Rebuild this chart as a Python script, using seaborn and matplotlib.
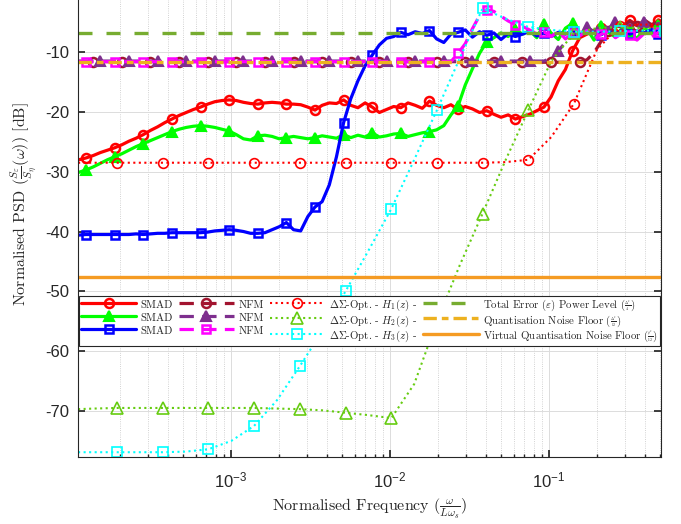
import matplotlib
matplotlib.use("Agg")
import matplotlib.pyplot as plt
from matplotlib.font_manager import FontProperties
import seaborn as sns

# shared frequency grid for SMAD / NFM curves (normalised frequency)
freq = [1.104e-4, 1.225e-4, 1.358e-4, 1.507e-4, 1.671e-4, 1.854e-4, 2.056e-4, 2.280e-4, 2.529e-4, 2.805e-4,
        3.112e-4, 3.451e-4, 3.828e-4, 4.246e-4, 4.710e-4, 5.224e-4, 5.794e-4, 6.427e-4, 7.129e-4, 7.907e-4,
        8.770e-4, 9.727e-4, 1.079e-3, 1.197e-3, 1.327e-3, 1.472e-3, 1.633e-3, 1.811e-3, 2.009e-3, 2.228e-3,
        2.472e-3, 2.742e-3, 3.041e-3, 3.373e-3, 3.741e-3, 4.150e-3, 4.603e-3, 5.105e-3, 5.662e-3, 6.281e-3,
        6.966e-3, 7.727e-3, 8.570e-3, 9.506e-3, 1.054e-2, 1.169e-2, 1.297e-2, 1.439e-2, 1.596e-2, 1.770e-2,
        1.963e-2, 2.178e-2, 2.415e-2, 2.679e-2, 2.972e-2, 3.296e-2, 3.656e-2, 4.055e-2, 4.498e-2, 4.989e-2,
        5.534e-2, 6.138e-2, 6.808e-2, 7.551e-2, 8.375e-2, 9.290e-2, 0.1030, 0.1143, 0.1268, 0.1406,
        0.1560, 0.1730, 0.1919, 0.2128, 0.2360, 0.2618, 0.2904, 0.3221, 0.3573, 0.3963,
        0.4395, 0.4875, 0.5408]

smad_h1 = [-28.0,
           -27.7, -27.3, -26.8, -26.4, -26.0, -25.5, -24.9, -24.4, -23.8, -23.1,
           -22.5, -21.8, -21.2, -20.6, -20.1, -19.6, -19.2, -18.7, -18.3, -18.1,
           -18.0, -18.1, -18.4, -18.6, -18.7, -18.5, -18.4, -18.5, -18.7, -18.7,
           -18.8, -19.2, -19.7, -18.9, -18.5, -18.6, -18.0, -18.9, -19.3, -18.5,
           -19.2, -20.1, -19.6, -19.1, -19.3, -18.5, -18.9, -19.4, -18.2, -18.9,
           -19.3, -18.8, -19.6, -19.1, -19.5, -20.1, -19.8, -20.4, -20.9, -20.5,
           -21.2, -20.8, -20.4, -19.8, -19.2, -17.5, -14.8, -12.9, -9.8, -7.6,
           -7.0, -6.4, -5.9, -6.3, -5.0, -5.6, -4.7, -5.5, -4.9, -5.8,
           -4.6, -5.3]
smad_h2 = [-30.1,
           -29.7, -29.2, -28.6, -28.0, -27.5, -27.0, -26.4, -25.8, -25.3, -24.8,
           -24.3, -23.8, -23.3, -22.9, -22.6, -22.4, -22.3, -22.4, -22.6, -22.9,
           -23.2, -23.8, -24.5, -24.7, -24.0, -23.9, -24.1, -24.5, -24.3, -24.1,
           -24.3, -24.5, -24.3, -24.0, -24.2, -24.4, -23.8, -24.3, -23.9, -24.2,
           -23.5, -24.2, -24.0, -23.7, -23.6, -24.1, -23.8, -23.5, -23.3, -23.0,
           -22.3, -20.5, -19.0, -15.5, -12.8, -10.2, -8.3, -7.6, -6.8, -7.4,
           -6.2, -7.0, -6.4, -7.6, -5.3, -6.8, -7.9, -6.0, -5.2, -7.2,
           -6.1, -8.0, -5.6, -6.7, -7.5, -5.8, -6.5, -7.8, -5.9, -6.9,
           -5.4, -7.2]
smad_h3 = [-40.6,
           -40.5, -40.5, -40.5, -40.5, -40.5, -40.5, -40.5, -40.4, -40.5, -40.4,
           -40.3, -40.3, -40.2, -40.2, -40.2, -40.2, -40.2, -40.1, -39.9, -39.8,
           -39.7, -39.8, -40.0, -40.3, -40.3, -40.2, -39.7, -39.2, -38.5, -39.7,
           -39.9, -37.5, -35.9, -35.0, -32.2, -27.5, -21.8, -17.8, -14.8, -12.3,
           -10.5, -8.8, -7.7, -7.4, -6.7, -7.1, -6.6, -6.9, -6.4, -7.8,
           -8.4, -7.0, -6.7, -6.3, -7.5, -6.6, -7.2, -6.8, -7.9, -6.9,
           -7.4, -7.0, -6.5, -7.3, -6.8, -7.4, -6.7, -7.0, -6.4, -7.2,
           -6.6, -6.9, -7.1, -6.4, -6.9, -6.3, -7.0, -6.5, -6.8, -6.2,
           -6.9, -6.5]

nfm_h1 = [-11.6,
          -11.6, -11.6, -11.6, -11.6, -11.6, -11.6, -11.6, -11.6, -11.6, -11.6,
          -11.6, -11.6, -11.6, -11.6, -11.6, -11.6, -11.6, -11.6, -11.6, -11.6,
          -11.6, -11.6, -11.6, -11.6, -11.6, -11.6, -11.6, -11.6, -11.6, -11.6,
          -11.6, -11.6, -11.6, -11.6, -11.6, -11.6, -11.6, -11.6, -11.6, -11.6,
          -11.6, -11.6, -11.6, -11.6, -11.6, -11.6, -11.6, -11.6, -11.6, -11.6,
          -11.6, -11.6, -11.6, -11.6, -11.6, -11.6, -11.6, -11.6, -11.6, -11.6,
          -11.6, -11.6, -11.6, -11.7, -11.7, -11.7, -11.7, -11.7, -11.7, -11.6,
          -11.3, -10.1, -8.2, -6.4, -5.3, -5.9, -4.8, -5.6, -4.6, -5.4,
          -4.9, -5.5]
nfm_h2 = [-11.5,
          -11.5, -11.5, -11.5, -11.5, -11.5, -11.5, -11.5, -11.5, -11.5, -11.5,
          -11.5, -11.5, -11.5, -11.5, -11.5, -11.5, -11.5, -11.5, -11.5, -11.5,
          -11.5, -11.5, -11.5, -11.5, -11.5, -11.5, -11.5, -11.5, -11.5, -11.5,
          -11.5, -11.5, -11.5, -11.5, -11.5, -11.5, -11.5, -11.5, -11.5, -11.5,
          -11.5, -11.5, -11.5, -11.5, -11.5, -11.5, -11.5, -11.5, -11.5, -11.5,
          -11.5, -11.5, -11.5, -11.5, -11.5, -11.5, -11.5, -11.5, -11.5, -11.5,
          -11.5, -11.5, -11.5, -11.5, -11.5, -11.0, -9.8, -8.4, -7.2, -6.3,
          -5.8, -6.6, -5.3, -6.1, -5.0, -6.4, -5.4, -6.2, -4.9, -5.9,
          -5.2, -6.0]
nfm_h3 = [-11.6,
          -11.6, -11.6, -11.6, -11.6, -11.6, -11.6, -11.6, -11.6, -11.6, -11.6,
          -11.6, -11.6, -11.6, -11.6, -11.6, -11.6, -11.6, -11.6, -11.6, -11.6,
          -11.6, -11.6, -11.6, -11.6, -11.6, -11.6, -11.6, -11.6, -11.6, -11.6,
          -11.6, -11.6, -11.6, -11.6, -11.6, -11.6, -11.6, -11.6, -11.6, -11.6,
          -11.6, -11.6, -11.6, -11.6, -11.6, -11.6, -11.6, -11.6, -11.6, -11.6,
          -11.6, -11.6, -10.2, -8.6, -6.1, -3.9, -2.9, -3.2, -4.0, -4.8,
          -5.4, -5.7, -6.3, -7.0, -6.6, -7.4, -6.5, -7.8, -6.8, -7.3,
          -6.4, -7.9, -7.0, -6.5, -7.6, -6.8, -7.2, -8.0, -6.9, -7.5,
          -6.7, -7.8]

# grid for the Delta-Sigma optimised curves
freq_opt = [1.091e-4, 1.377e-4, 1.919e-4, 2.673e-4, 3.715e-4, 5.176e-4, 7.211e-4, 1.005e-3, 1.396e-3,
            1.945e-3, 2.710e-3, 3.776e-3, 5.248e-3, 7.311e-3, 1.019e-2, 1.419e-2, 1.972e-2, 2.748e-2,
            3.819e-2, 5.321e-2, 7.413e-2, 0.1033, 0.1436, 0.2000, 0.2786, 0.3882, 0.5395]
opt_h1 = [-28.5, -28.5, -28.5, -28.5, -28.5, -28.5, -28.5, -28.5, -28.5,
          -28.5, -28.5, -28.5, -28.5, -28.5, -28.5, -28.5, -28.5, -28.5,
          -28.5, -28.4, -28.0, -24.2, -18.6, -9.6, -5.6, -5.4, -5.4]
opt_h2 = [-69.7, -69.6, -69.5, -69.5, -69.5, -69.5, -69.5, -69.5, -69.5,
          -69.6, -69.7, -69.9, -70.3, -70.7, -71.2, -65.5, -55.0, -45.6,
          -37.0, -28.1, -19.7, -11.5, -6.8, -6.0, -5.8, -6.0, -6.0]
opt_h3 = [-76.9, -76.9, -76.9, -76.9, -76.9, -76.8, -76.4, -75.0, -72.5,
          -68.2, -62.5, -56.5, -50.0, -43.2, -36.2, -28.0, -19.7, -11.0,
          -2.7, -4.4, -5.8, -6.3, -6.6, -6.6, -6.5, -6.4, -6.4]

total_error_db = -6.8
quant_floor_db = -11.6
virtual_floor_db = -47.6

labels = ['SMAD', 'SMAD', 'SMAD', 'NFM', 'NFM', 'NFM',
          r'$\Delta\Sigma$-Opt. - $H_1(z)$ -',
          r'$\Delta\Sigma$-Opt. - $H_2(z)$ -',
          r'$\Delta\Sigma$-Opt. - $H_3(z)$ -',
          r'Total Error $(\varepsilon)$ Power Level $(\genfrac{}{}{0.5}{3}{\Delta^2}{4})$',
          r'Quantisation Noise Floor $(\genfrac{}{}{0.5}{3}{\Delta^2}{12})$',
          r'Virtual Quantisation Noise Floor $(\genfrac{}{}{0.5}{3}{\rho^2}{12})$']

sns.set_theme(style="whitegrid")
plt.rcParams['font.family'] = ['Liberation Sans', 'DejaVu Sans']
plt.rcParams['mathtext.fontset'] = 'cm'
plt.rcParams['axes.unicode_minus'] = False

fig = plt.figure(figsize=(6.81, 5.24), dpi=100)
# the axes run a little past the top edge of the picture (cropped like the original)
ax = fig.add_axes([78 / 681, 67 / 524, 583 / 681, 506 / 524])
ax.set_xscale('log')


def draw(x, y, color, ls, lw, marker, ms, mew, mfc, every):
    sns.lineplot(x=x, y=y, ax=ax, color=color, linestyle=ls, linewidth=lw,
                 marker=marker, markersize=ms, markeredgewidth=mew,
                 markeredgecolor=color, markerfacecolor=mfc, markevery=every,
                 sort=False, estimator=None, errorbar=None, legend=False)
    return ax.lines[-1]


handles = []
# SMAD
handles.append(draw(freq, smad_h1, '#FF0000', '-', 2.3, 'o', 6.5, 1.8, 'none', (1, 4)))
handles.append(draw(freq, smad_h2, '#00FF00', '-', 2.3, '^', 7.5, 1.5, '#00FF00', (1, 4)))
handles.append(draw(freq, smad_h3, '#0000FF', '-', 2.3, 's', 6.0, 1.8, 'none', (1, 4)))
# NFM
handles.append(draw(freq, nfm_h1, '#A2142F', '--', 2.3, 'o', 6.5, 1.8, 'none', (2, 4)))
handles.append(draw(freq, nfm_h2, '#7E2F8E', '--', 2.3, '^', 7.5, 1.5, '#7E2F8E', (3, 4)))
handles.append(draw(freq, nfm_h3, '#FF00FF', '--', 2.3, 's', 6.0, 1.8, 'none', (1, 4)))
for h in handles[3:6]:
    h.set_dashes((4.5, 2.6))
# Delta-Sigma optimised
handles.append(draw(freq_opt, opt_h1, '#FF0000', ':', 1.5, 'o', 7.0, 1.2, 'none', (2, 2)))
handles.append(draw(freq_opt, opt_h2, '#66CC11', ':', 1.5, '^', 8.0, 1.2, 'none', (2, 2)))
handles.append(draw(freq_opt, opt_h3, '#00FFFF', ':', 1.5, 's', 7.0, 1.2, 'none', (2, 2)))

# reference levels
l_tot = ax.axhline(total_error_db, color='#77AC30', lw=2.4)
l_tot.set_dashes((4.2, 4.2))
l_q = ax.axhline(quant_floor_db, color='#EDB120', lw=2.4)
l_q.set_dashes((4.0, 1.5, 2.0, 1.5))
l_v = ax.axhline(virtual_floor_db, color='#F59B23', lw=2.4)
handles += [l_tot, l_q, l_v]

ax.set_xlim(1.09e-4, 0.506)
ax.set_ylim(-77.7, 6.9)
ax.set_yticks([-70, -60, -50, -40, -30, -20, -10])

ax.set_facecolor('white')
ax.grid(True, which='major', color='#DCDCDC', lw=0.7, ls='-')
ax.grid(True, which='minor', axis='x', color='#C4C4C4', lw=0.6, ls=':')
ax.set_axisbelow(True)
for s in ax.spines.values():
    s.set_color('#262626')
    s.set_linewidth(0.8)
ax.tick_params(which='both', direction='in', top=True, right=True, bottom=True, left=True,
               color='#262626', labelcolor='#262626', labelsize=12)
ax.tick_params(which='major', length=5)
ax.tick_params(which='minor', length=2.5)
ax.tick_params(axis='y', pad=6)
ax.tick_params(axis='x', pad=10)

ax.set_xlabel(r'Normalised Frequency ($\frac{\omega}{L\omega_s}$)', fontfamily='cmr10',
              fontsize=11.5, color='#262626')
ax.set_ylabel(r'Normalised PSD ($\frac{S_\varepsilon}{S_\eta}(\omega)$) [dB]', fontfamily='cmr10',
              fontsize=11.5, color='#262626')

leg = ax.legend(handles, labels, ncol=4, loc='lower left', mode='expand',
                bbox_to_anchor=(79 / 681, 1 - 346 / 524, 581 / 681, 0.001),
                bbox_transform=fig.transFigure, borderaxespad=0,
                prop=FontProperties(family='cmr10', size=7.8), numpoints=1,
                handlelength=5.1, handleheight=1.45, handletextpad=0.4, columnspacing=0.6,
                labelspacing=0.0, borderpad=0.2, fancybox=False, framealpha=1)
leg.get_frame().set_edgecolor('#262626')
leg.get_frame().set_linewidth(0.8)

fig.savefig('out.png', dpi=100)
